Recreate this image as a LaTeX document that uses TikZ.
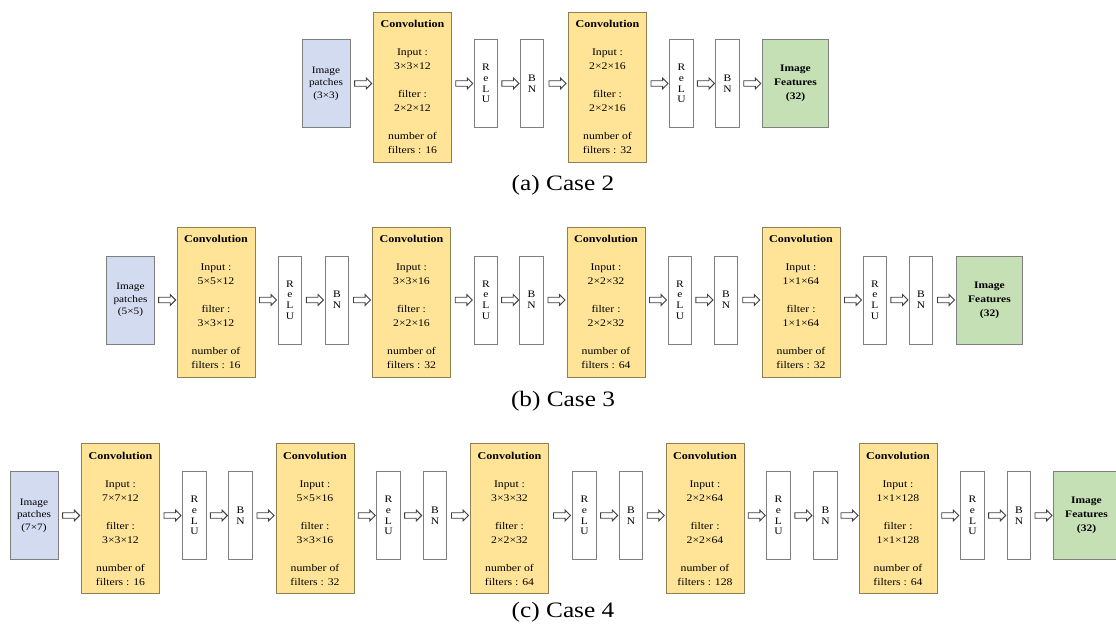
\documentclass[tikz,border=0pt]{standalone}
\usepackage{fontspec}
\setmainfont{Liberation Serif}[FakeStretch=1.15]
\usetikzlibrary{shapes.arrows,calc}
\definecolor{convfill}{HTML}{FFE497}
\definecolor{convline}{HTML}{8F7F55}
\definecolor{boxline}{HTML}{7F7F7F}
\definecolor{patchfill}{HTML}{D3DBF1}
\definecolor{featfill}{HTML}{C5E0B4}
\newcommand\convtext[3]{{\bfseries\fontsize{10.5}{14}\selectfont Convolution}\\[14pt]Input :\\#1\\[14pt]filter :\\#2\\[14pt]number of\\filters : #3}
\newcommand\myarrow[3]{\path ($(#1.east)!.5!(#2.west)$) coordinate (m#1#2); \node[harrow] (arr#1#2) at (m#1#2 |- #3) {};}
\begin{document}
\begin{tikzpicture}[x=1pt,y=1pt,
  conv/.style={draw=convline, fill=convfill, line width=0.8pt, minimum width=78pt, minimum height=150pt, inner sep=0pt, align=center, font=\fontsize{10.2}{14}\selectfont},
  small/.style={draw=boxline, fill=white, line width=0.8pt, minimum width=23.5pt, minimum height=88pt, inner sep=0pt, align=center, font=\fontsize{10}{10.7}\selectfont},
  patch/.style={draw=boxline, fill=patchfill, line width=0.8pt, minimum width=48pt, minimum height=88pt, inner sep=0pt, align=center, font=\fontsize{9.8}{12.5}\selectfont},
  feat/.style={draw=boxline, fill=featfill, line width=0.8pt, minimum width=66pt, minimum height=88pt, inner sep=0pt, align=center, font=\bfseries\fontsize{10}{14}\selectfont},
  harrow/.style={single arrow, draw=black!75, fill=white, line width=0.9pt, minimum height=17pt, inner sep=2.3pt, single arrow head extend=2.6pt},
  caption/.style={font=\fontsize{22}{24}\selectfont, inner sep=0pt}
]
\fill[white] (0,0) rectangle (1116,628);
\useasboundingbox (0,0) rectangle (1116,628);
% Row a
\node[patch] (ap) at (326,544.5) {Image\\patches\\(3×3)};
\node[conv] (ac1) at (412.5,541) {\convtext{3×3×12}{2×2×12}{16}};
\node[small] (ar1) at (486,544.5) {R\\e\\L\\U};
\node[small] (ab1) at (532,544.5) {B\\N};
\node[conv] (ac2) at (607.5,541) {\convtext{2×2×16}{2×2×16}{32}};
\node[small] (ar2) at (681.5,544.5) {R\\e\\L\\U};
\node[small] (ab2) at (727.5,544.5) {B\\N};
\node[feat] (af) at (795.5,544.5) {Image\\Features\\(32)};
\myarrow{ap}{ac1}{ar1}\myarrow{ac1}{ar1}{ar1}\myarrow{ar1}{ab1}{ar1}\myarrow{ab1}{ac2}{ar1}
\myarrow{ac2}{ar2}{ar1}\myarrow{ar2}{ab2}{ar1}\myarrow{ab2}{af}{ar1}
\node[caption] (capa) at (563,443) {(a) Case 2};
% Row b
\node[patch] (bp) at (130.5,328) {Image\\patches\\(5×5)};
\node[conv] (bc1) at (216,326) {\convtext{5×5×12}{3×3×12}{16}};
\node[small] (br1) at (290,328) {R\\e\\L\\U};
\node[small] (bb1) at (337,328) {B\\N};
\node[conv] (bc2) at (411.5,326) {\convtext{3×3×16}{2×2×16}{32}};
\node[small] (br2) at (486,328) {R\\e\\L\\U};
\node[small] (bb2) at (531.5,328) {B\\N};
\node[conv] (bc3) at (606,326) {\convtext{2×2×32}{2×2×32}{64}};
\node[small] (br3) at (680,328) {R\\e\\L\\U};
\node[small] (bb3) at (726,328) {B\\N};
\node[conv] (bc4) at (801,326) {\convtext{1×1×64}{1×1×64}{32}};
\node[small] (br4) at (875,328) {R\\e\\L\\U};
\node[small] (bb4) at (921,328) {B\\N};
\node[feat] (bf) at (989.5,328) {Image\\Features\\(32)};
\myarrow{bp}{bc1}{br1}\myarrow{bc1}{br1}{br1}\myarrow{br1}{bb1}{br1}\myarrow{bb1}{bc2}{br1}
\myarrow{bc2}{br2}{br1}\myarrow{br2}{bb2}{br1}\myarrow{bb2}{bc3}{br1}
\myarrow{bc3}{br3}{br1}\myarrow{br3}{bb3}{br1}\myarrow{bb3}{bc4}{br1}
\myarrow{bc4}{br4}{br1}\myarrow{br4}{bb4}{br1}\myarrow{bb4}{bf}{br1}
\node[caption] (capb) at (563,227) {(b) Case 3};
% Row c
\node[patch] (cp) at (34,112.5) {Image\\patches\\(7×7)};
\node[conv] (cc1) at (120.5,109.5) {\convtext{7×7×12}{3×3×12}{16}};
\node[small] (cr1) at (194.5,112.5) {R\\e\\L\\U};
\node[small] (cb1) at (240.5,112.5) {B\\N};
\node[conv] (cc2) at (315,109.5) {\convtext{5×5×16}{3×3×16}{32}};
\node[small] (cr2) at (388.5,112.5) {R\\e\\L\\U};
\node[small] (cb2) at (435,112.5) {B\\N};
\node[conv] (cc3) at (509.5,109.5) {\convtext{3×3×32}{2×2×32}{64}};
\node[small] (cr3) at (584.5,112.5) {R\\e\\L\\U};
\node[small] (cb3) at (631,112.5) {B\\N};
\node[conv] (cc4) at (705,109.5) {\convtext{2×2×64}{2×2×64}{128}};
\node[small] (cr4) at (778.5,112.5) {R\\e\\L\\U};
\node[small] (cb4) at (825.5,112.5) {B\\N};
\node[conv] (cc5) at (898,109.5) {\convtext{1×1×128}{1×1×128}{64}};
\node[small] (cr5) at (972.5,112.5) {R\\e\\L\\U};
\node[small] (cb5) at (1019,112.5) {B\\N};
\node[feat] (cf) at (1086.5,112.5) {Image\\Features\\(32)};
\myarrow{cp}{cc1}{cr1}\myarrow{cc1}{cr1}{cr1}\myarrow{cr1}{cb1}{cr1}\myarrow{cb1}{cc2}{cr1}
\myarrow{cc2}{cr2}{cr1}\myarrow{cr2}{cb2}{cr1}\myarrow{cb2}{cc3}{cr1}
\myarrow{cc3}{cr3}{cr1}\myarrow{cr3}{cb3}{cr1}\myarrow{cb3}{cc4}{cr1}
\myarrow{cc4}{cr4}{cr1}\myarrow{cr4}{cb4}{cr1}\myarrow{cb4}{cc5}{cr1}
\myarrow{cc5}{cr5}{cr1}\myarrow{cr5}{cb5}{cr1}\myarrow{cb5}{cf}{cr1}
\node[caption] (capc) at (563,16) {(c) Case 4};
\end{tikzpicture}
\end{document}
